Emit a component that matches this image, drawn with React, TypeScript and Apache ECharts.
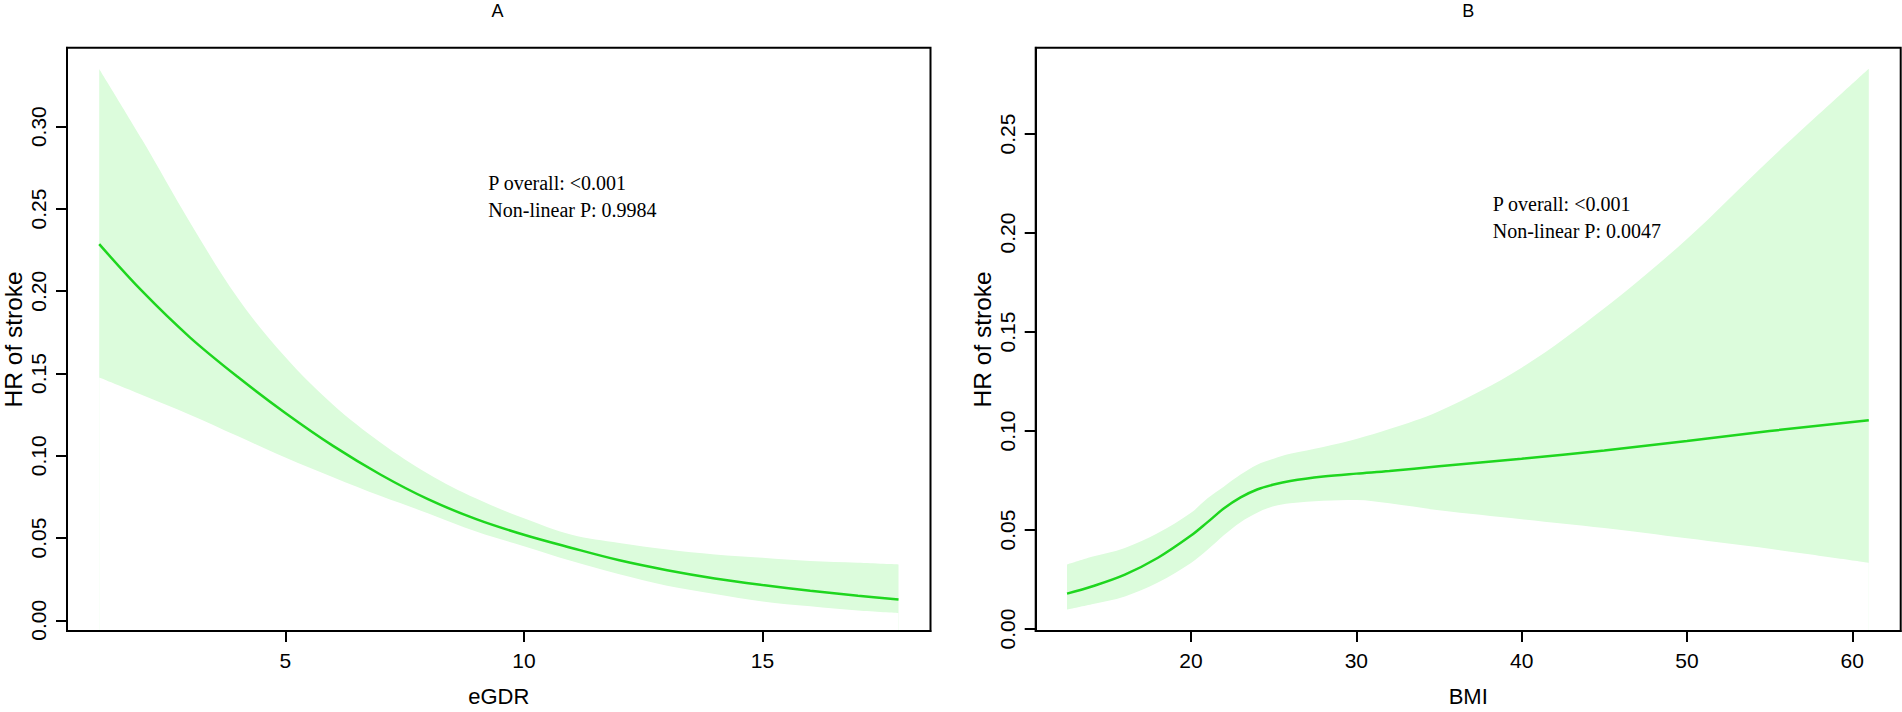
import React, { useEffect, useRef } from "react";
import * as echarts from "echarts";

// ---- Panel A: eGDR ----
const eGDR = [1.1, 2, 3, 4, 5, 6, 7, 8, 9, 10, 11, 12, 13, 14, 15, 16, 17, 17.85];
const eGDRHR = [0.2286, 0.2, 0.172, 0.148, 0.126, 0.106, 0.0885, 0.0735, 0.0615, 0.052, 0.044, 0.0365, 0.0305, 0.0255, 0.0215, 0.018, 0.015, 0.0127];
const eGDRLower = [0.1476, 0.137, 0.125, 0.112, 0.099, 0.087, 0.0755, 0.065, 0.054, 0.045, 0.036, 0.028, 0.021, 0.016, 0.0115, 0.0085, 0.006, 0.0045];
const eGDRUpper = [0.335, 0.292, 0.242, 0.196, 0.16, 0.131, 0.108, 0.089, 0.074, 0.062, 0.052, 0.047, 0.043, 0.04, 0.038, 0.036, 0.035, 0.034];

// ---- Panel B: BMI ----
const BMI = [12.5, 14, 16, 18, 20, 21, 22, 23, 24, 25, 26, 28, 30, 32, 35, 40, 45, 50, 55, 61];
const BMIHR = [0.0179, 0.0215, 0.0275, 0.036, 0.0472, 0.054, 0.061, 0.0665, 0.0705, 0.073, 0.0748, 0.077, 0.0785, 0.0798, 0.0822, 0.086, 0.0902, 0.095, 0.1, 0.1055];
const BMILower = [0.0098, 0.0125, 0.0165, 0.0235, 0.0334, 0.04, 0.0475, 0.054, 0.0588, 0.062, 0.0635, 0.0648, 0.0652, 0.0635, 0.06, 0.0555, 0.051, 0.0458, 0.0405, 0.0335];
const BMIUpper = [0.0326, 0.0365, 0.041, 0.0485, 0.0587, 0.066, 0.072, 0.078, 0.083, 0.086, 0.0885, 0.092, 0.096, 0.101, 0.11, 0.132, 0.162, 0.197, 0.237, 0.283];

// ---- Ticks ----
const xTicksA = [5, 10, 15];
const yTicksA = [0, 0.05, 0.1, 0.15, 0.2, 0.25, 0.3];
const xTicksB = [20, 30, 40, 50, 60];
const yTicksB = [0, 0.05, 0.1, 0.15, 0.2, 0.25];

const titleA = "A";
const titleB = "B";
const xNameA = "eGDR";
const xNameB = "BMI";
const yName = "HR of stroke";
const annotA = ["P overall: <0.001", "Non-linear P: 0.9984"];
const annotB = ["P overall: <0.001", "Non-linear P: 0.0047"];

const SANS = '"Liberation Sans", Arial, Helvetica, sans-serif';
const SERIF = '"Liberation Serif", "Times New Roman", serif';
const BAND = "#DCFCDC";
const LINE = "#1ED61E";
const SMOOTH = 0.35;

function xAxisCfg(gridIndex: number, min: number, max: number, ticks: number[], name: string) {
  return {
    type: "value",
    gridIndex,
    min,
    max,
    z: 10,
    name,
    nameLocation: "middle",
    nameGap: 54,
    nameTextStyle: { fontFamily: SANS, fontSize: 22, color: "#000" },
    axisLine: { show: true, onZero: false, lineStyle: { color: "#000", width: 2 } },
    axisTick: { show: true, length: 11, lineStyle: { color: "#000", width: 2 }, customValues: ticks },
    axisLabel: { show: true, customValues: ticks, fontFamily: SANS, fontSize: 21, color: "#000", margin: 19, formatter: (v: number) => String(v) },
    splitLine: { show: false },
  };
}

function yAxisCfg(gridIndex: number, min: number, max: number, ticks: number[]) {
  return {
    type: "value",
    gridIndex,
    min,
    max,
    z: 10,
    name: yName,
    nameLocation: "middle",
    nameGap: 41,
    nameTextStyle: { fontFamily: SANS, fontSize: 24.5, color: "#000" },
    axisLine: { show: true, onZero: false, lineStyle: { color: "#000", width: 2 } },
    axisTick: { show: true, length: 11, lineStyle: { color: "#000", width: 2 }, customValues: ticks },
    axisLabel: { show: true, rotate: 90, customValues: ticks, fontFamily: SANS, fontSize: 21, color: "#000", margin: 18, formatter: (v: number) => v.toFixed(2) },
    splitLine: { show: false },
  };
}

// Confidence band: upper curve filled green to the axis bottom, then the lower
// curve filled white to the axis bottom, leaving the band between them.
function bandSeries(idx: number, xs: number[], lo: number[], hi: number[]) {
  return [
    {
      type: "line",
      xAxisIndex: idx,
      yAxisIndex: idx,
      data: xs.map((x, i) => [x, hi[i]]),
      symbol: "none",
      smooth: SMOOTH,
      silent: true,
      lineStyle: { width: 0, opacity: 0 },
      areaStyle: { color: BAND, opacity: 1, origin: "start" },
      z: 1,
    },
    {
      type: "line",
      xAxisIndex: idx,
      yAxisIndex: idx,
      data: xs.map((x, i) => [x, lo[i]]),
      symbol: "none",
      smooth: SMOOTH,
      silent: true,
      lineStyle: { width: 0, opacity: 0 },
      areaStyle: { color: "#ffffff", opacity: 1, origin: "start" },
      z: 2,
    },
  ];
}

function lineSeries(idx: number, xs: number[], ys: number[]) {
  return {
    type: "line",
    xAxisIndex: idx,
    yAxisIndex: idx,
    data: xs.map((x, i) => [x, ys[i]]),
    symbol: "none",
    smooth: SMOOTH,
    silent: true,
    lineStyle: { color: LINE, width: 2.5 },
    z: 3,
  };
}

function annot(x: number, y: number, lines: string[]) {
  return lines.map((t, i) => ({
    type: "text",
    x,
    y: y + i * 26.8,
    z: 10,
    style: { text: t, font: `20px ${SERIF}`, fill: "#000", textAlign: "left", textVerticalAlign: "middle" },
  }));
}

export default function App() {
  const ref = useRef<HTMLDivElement>(null);
  useEffect(() => {
    if (!ref.current) return;
    const chart = echarts.init(ref.current, undefined, { renderer: "svg" });
    const option = {
      animation: false,
      backgroundColor: "#fff",
      grid: [
        { left: 64.3, top: 47.7, width: 866.2, height: 602.6, show: true, borderColor: "#000", borderWidth: 2, backgroundColor: "transparent", z: 0 },
        { left: 1035.7, top: 47.7, width: 865, height: 602.6, show: true, borderColor: "#000", borderWidth: 2, backgroundColor: "transparent", z: 0 },
      ],
      xAxis: [
        xAxisCfg(0, 0.425, 18.52, xTicksA, xNameA),
        xAxisCfg(1, 10.605, 62.93, xTicksB, xNameB),
      ],
      yAxis: [
        yAxisCfg(0, -0.00647, 0.348, yTicksA),
        yAxisCfg(1, -0.00098, 0.2936, yTicksB),
      ],
      series: [
        ...bandSeries(0, eGDR, eGDRLower, eGDRUpper),
        lineSeries(0, eGDR, eGDRHR),
        ...bandSeries(1, BMI, BMILower, BMIUpper),
        lineSeries(1, BMI, BMIHR),
      ],
      graphic: [
        { type: "text", x: 497.4, y: 10.5, style: { text: titleA, font: `18px ${SANS}`, fill: "#000", textAlign: "center", textVerticalAlign: "middle" } },
        { type: "text", x: 1468.2, y: 10.5, style: { text: titleB, font: `18px ${SANS}`, fill: "#000", textAlign: "center", textVerticalAlign: "middle" } },
        ...annot(488.3, 182.8, annotA),
        ...annot(1492.7, 203.8, annotB),
      ],
    };
    chart.setOption(option as any);
    return () => chart.dispose();
  }, []);
  return <div ref={ref} style={{ position: "absolute", left: 0, top: 0, width: 1902, height: 712 }} />;
}
